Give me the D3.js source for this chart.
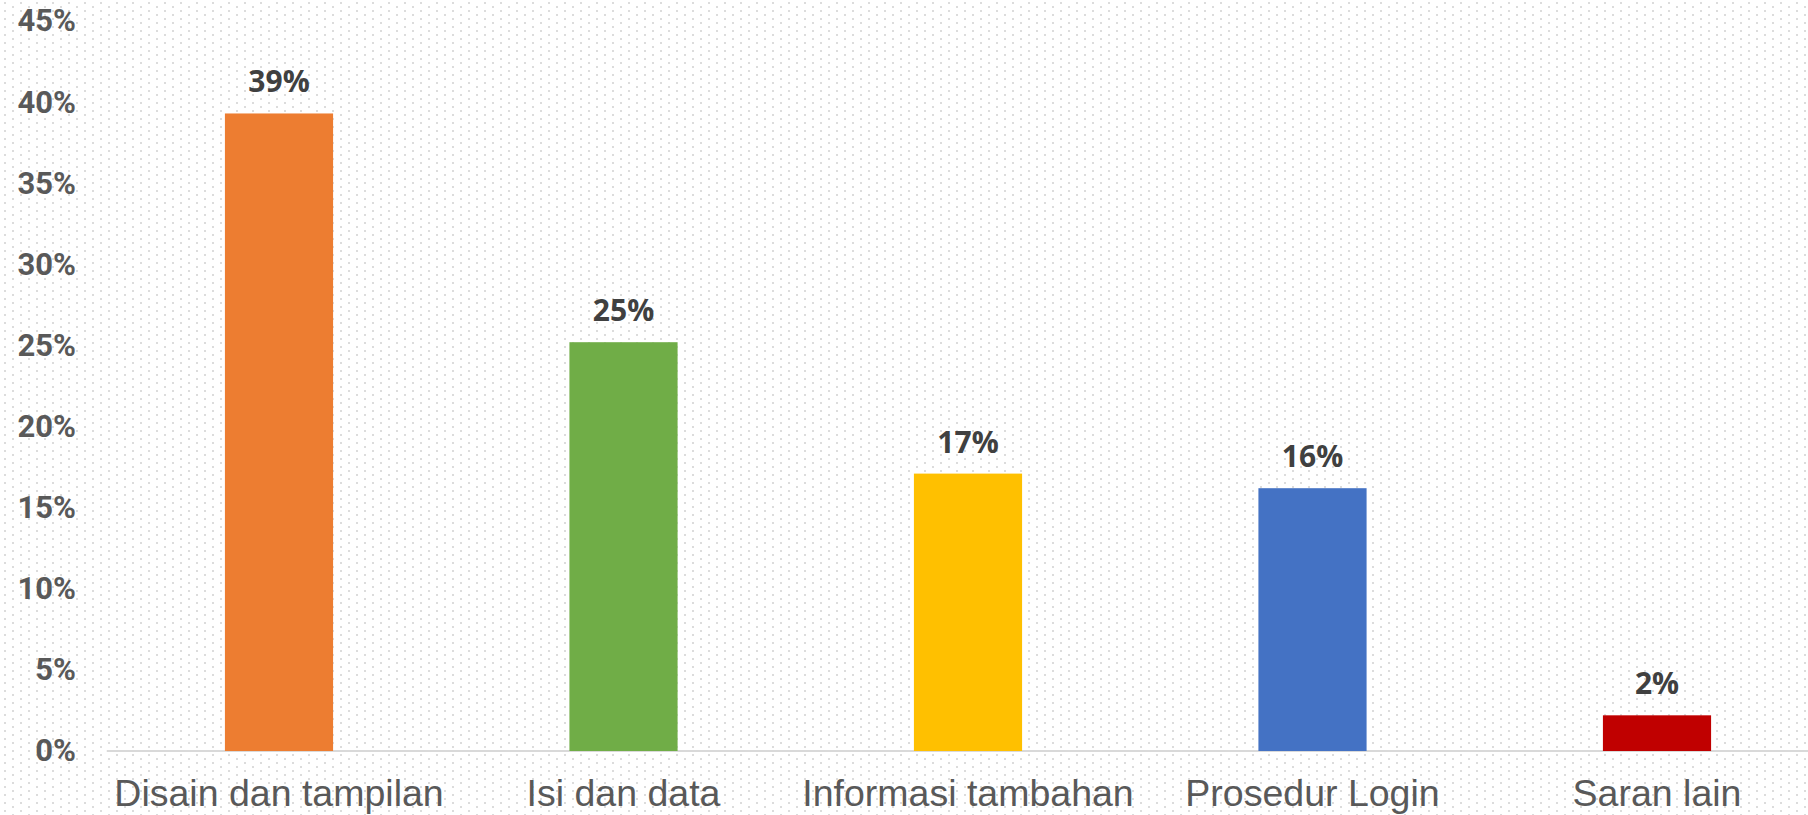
<!DOCTYPE html>
<html>
<head>
<meta charset="utf-8">
<script src="https://cdn.jsdelivr.net/npm/d3@7"></script>
<style>
  html, body { margin: 0; padding: 0; background: #fff; overflow: hidden; }
  svg { display: block; }
</style>
</head>
<body>
<svg width="1808" height="815"></svg>
<script>
/* Bar chart - saran pengguna */

var categories = ["Disain dan tampilan", "Isi dan data", "Informasi tambahan", "Prosedur Login", "Saran lain"];
var values = [39.3, 25.2, 17.1, 16.2, 2.2];
var labels = ["39%", "25%", "17%", "16%", "2%"];
var colors = ["#ed7d31", "#70ad47", "#ffc000", "#4472c4", "#c00000"];
var yTicks = [0, 5, 10, 15, 20, 25, 30, 35, 40, 45];

var svg = d3.select("svg"),
    width = +svg.attr("width"),
    height = +svg.attr("height");

// dotted background pattern
var defs = svg.append("defs");
var pat = defs.append("pattern")
    .attr("id", "dots")
    .attr("patternUnits", "userSpaceOnUse")
    .attr("width", 16)
    .attr("height", 8);
pat.append("rect").attr("x", 4).attr("y", 2).attr("width", 2).attr("height", 2).attr("fill", "#dcdcdc");
pat.append("rect").attr("x", 12).attr("y", 6).attr("width", 2).attr("height", 2).attr("fill", "#dcdcdc");

svg.append("rect")
    .attr("width", width)
    .attr("height", height)
    .attr("fill", "url(#dots)");

var x = d3.scaleBand()
    .domain(categories)
    .range([106.75, 1829.25])
    .paddingInner(0.686)
    .paddingOuter(0.343);

var y = d3.scaleLinear()
    .domain([0, 45])
    .range([751, 21]);

// baseline
svg.append("line")
    .attr("x1", 106.75)
    .attr("x2", width)
    .attr("y1", y(0))
    .attr("y2", y(0))
    .attr("stroke", "#d9d9d9")
    .attr("stroke-width", 2);

// y axis labels
var yAxis = d3.axisLeft(y)
    .tickValues(yTicks)
    .tickSize(0)
    .tickPadding(0)
    .tickFormat(function (d) { return d + "%"; });

var gy = svg.append("g")
    .attr("transform", "translate(76,0)")
    .call(yAxis);
gy.select(".domain").remove();
gy.selectAll("text")
    .attr("font-family", "Roboto, sans-serif")
    .attr("font-weight", "bold")
    .attr("font-size", "31px")
    .attr("fill", "#595959");

// bars
svg.append("g")
    .selectAll("rect")
    .data(values)
    .enter().append("rect")
    .attr("x", function (d, i) { return x(categories[i]); })
    .attr("y", function (d) { return y(d); })
    .attr("width", x.bandwidth())
    .attr("height", function (d) { return y(0) - y(d); })
    .attr("fill", function (d, i) { return colors[i]; });

// value labels
svg.append("g")
    .selectAll("text")
    .data(values)
    .enter().append("text")
    .attr("x", function (d, i) { return x(categories[i]) + x.bandwidth() / 2; })
    .attr("y", function (d) { return y(d) - 21; })
    .attr("text-anchor", "middle")
    .attr("font-family", "'Open Sans', sans-serif")
    .attr("font-weight", "bold")
    .attr("font-size", "30px")
    .attr("fill", "#404040")
    .text(function (d, i) { return labels[i]; });

// x axis labels
var xAxis = d3.axisBottom(x).tickSize(0).tickPadding(0);
var gx = svg.append("g")
    .call(xAxis);
gx.select(".domain").remove();
gx.selectAll("text")
    .attr("y", 806)
    .attr("dy", null)
    .attr("font-family", "'Liberation Sans', Arial, sans-serif")
    .attr("font-size", "37.5px")
    .attr("fill", "#595959");
</script>
</body>
</html>
